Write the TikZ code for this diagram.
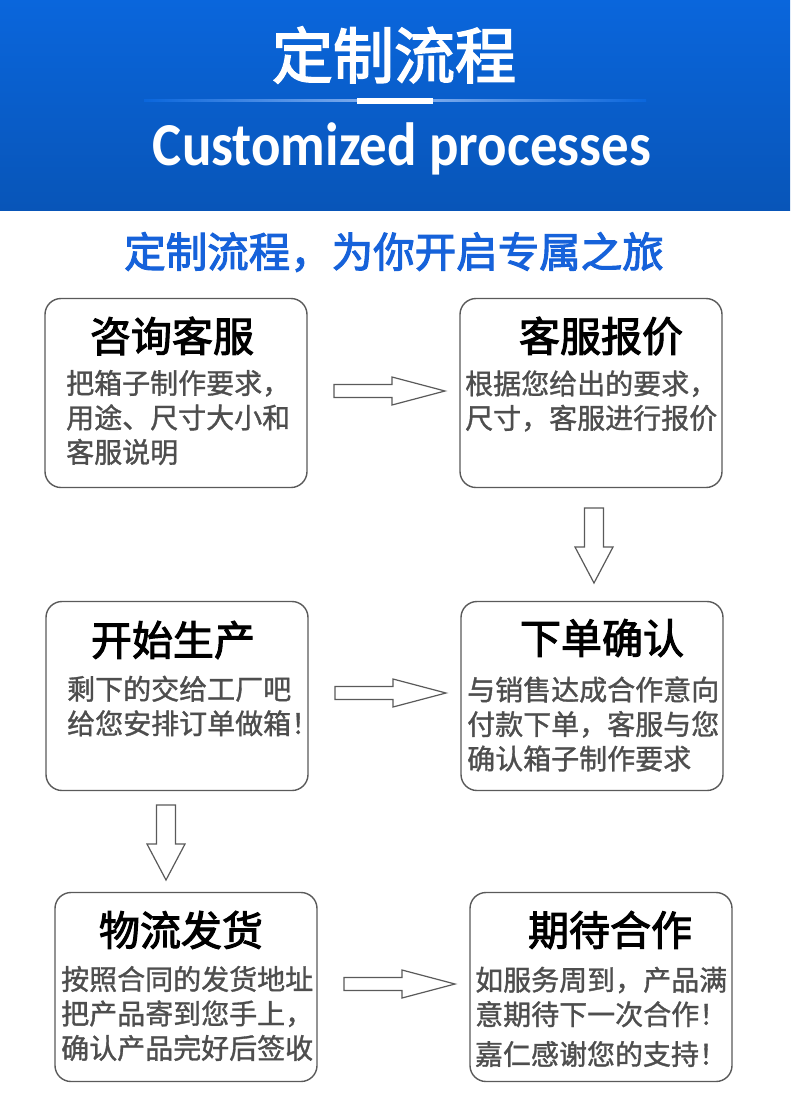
\documentclass[tikz,border=0pt]{standalone}
\usepackage{fontspec}
\newfontfamily\cjkm{Noto Sans CJK SC}[FakeBold=2.5]
\newfontfamily\cjkb{Noto Sans CJK SC}[FakeBold=1.2]
\newfontfamily\latin{Carlito}
\definecolor{hbtop}{HTML}{0A66DC}
\definecolor{hbbot}{HTML}{0855B8}
\definecolor{hline}{HTML}{8DB4EE}
\definecolor{subblue}{HTML}{1662DA}
\definecolor{boxgray}{HTML}{5A5A5A}
\definecolor{bodygray}{HTML}{4E4E4E}
\tikzset{
  box/.style={draw=boxgray, line width=1.4pt, rounded corners=16pt, fill=white, minimum width=262pt, minimum height=189pt, inner sep=0pt},
  boxtitle/.style={font=\cjkm\fontsize{41}{46}\selectfont, text=black, inner sep=0pt},
  boxbody/.style={font=\cjkb\fontsize{28}{34.5}\selectfont, text=bodygray, inner sep=0pt, align=left, anchor=west},
  blockarrow/.style={draw=boxgray, line width=1.2pt, fill=white, line join=miter},
  rarr/.pic={\draw[blockarrow] (0,-6.5) -- (58,-6.5) -- (58,-14) -- (111,0) -- (58,14) -- (58,6.5) -- (0,6.5) -- cycle;},
  darr/.pic={\draw[blockarrow] (-9.5,0) -- (-9.5,39) -- (-19,39) -- (0,75) -- (19,39) -- (9.5,39) -- (9.5,0) -- cycle;}
}
\begin{document}
\begin{tikzpicture}[x=1pt,y=-1pt]
\useasboundingbox (0,0) rectangle (790,1111);
\fill[white] (0,0) rectangle (790,1111);
% header
\shade[top color=hbtop, bottom color=hbbot] (0,0) rectangle (790,210);
\shade[left color=hbtop, right color=hline] (144,99.5) rectangle (395,101.5);
\shade[left color=hline, right color=hbtop] (395,99.5) rectangle (646,101.5);
\fill[white] (357,97.5) rectangle (433,103.5);
\node[text=white, font=\cjkm\fontsize{61}{66}\selectfont, inner sep=0pt] (title) at (394,55) {定制流程};
\node[text=white, font=\latin\bfseries\fontsize{61}{66}\selectfont, inner sep=0pt, anchor=base, xscale=0.9] (entitle) at (402,165) {Customized processes};
% subtitle
\node[text=subblue, font=\cjkm\fontsize{41.5}{46}\selectfont, inner sep=0pt] (sub) at (394,252) {定制流程，为你开启专属之旅};
% boxes
\node[box] (b1) at (176,393) {};
\node[box] (b2) at (591,393) {};
\node[box] (b3) at (177,696) {};
\node[box] (b4) at (592,696) {};
\node[box] (b5) at (186,987) {};
\node[box] (b6) at (601,987) {};
% titles
\node[boxtitle] (t1) at (172,336) {咨询客服};
\node[boxtitle] (t2) at (601,336) {客服报价};
\node[boxtitle] (t3) at (173,640) {开始生产};
\node[boxtitle] (t4) at (602,638) {下单确认};
\node[boxtitle] (t5) at (181,930) {物流发货};
\node[boxtitle] (t6) at (610,930) {期待合作};
% bodies
\node[boxbody] (d1) at (66,417.5) {把箱子制作要求，\\用途、尺寸大小和\\客服说明};
\node[boxbody] (d2) at (465,401) {根据您给出的要求，\\尺寸，客服进行报价};
\node[boxbody] (d3) at (67,706) {剩下的交给工厂吧\\给您安排订单做箱！};
\node[boxbody] (d4) at (467,724) {与销售达成合作意向\\付款下单，客服与您\\确认箱子制作要求};
\node[boxbody] (d5) at (61,1013.5) {按照合同的发货地址\\把产品寄到您手上，\\确认产品完好后签收};
\node[boxbody] (d6) at (475,997) {如服务周到，产品满\\意期待下一次合作！};
\node[boxbody, anchor=center] (d6b) at (601,1054) {嘉仁感谢您的支持！};
% arrows
\pic at (334,391) {rarr};
\pic at (335,693) {rarr};
\pic at (344,984) {rarr};
\pic at (594,508) {darr};
\pic at (166,805) {darr};
\end{tikzpicture}
\end{document}
